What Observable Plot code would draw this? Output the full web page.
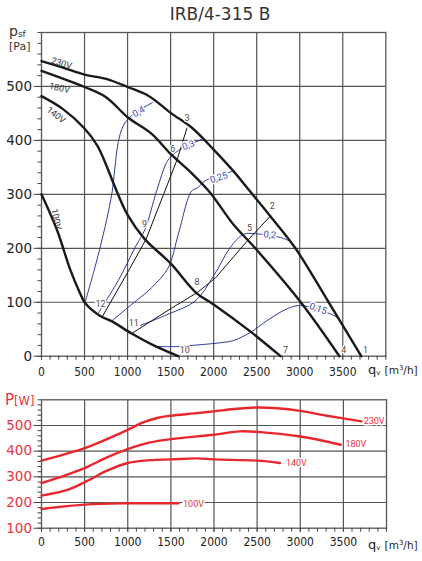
<!DOCTYPE html>
<html><head><meta charset="utf-8">
<script src="https://cdn.jsdelivr.net/npm/d3@7"></script>
<script src="https://cdn.jsdelivr.net/npm/@observablehq/plot@0.6"></script>
<style>
body{margin:0;background:#fff;}
#wrap{position:relative;width:422px;height:561px;overflow:hidden;font-family:"DejaVu Sans",sans-serif;}
.abs{position:absolute;white-space:nowrap;}
#topc,#botc{position:absolute;left:0;}
#topc{top:22px;} #botc{top:382px;}
</style></head><body>
<div id="wrap">
 <div class="abs" style="left:0;width:440px;text-align:center;top:4px;font-size:17px;color:#333">IRB/4-315 B</div>
 <div id="topc"></div>
 <div id="botc"></div>
 <div class="abs" style="left:9px;top:23px;font-size:14px;color:#333">p<span style="font-size:9px;vertical-align:-1px">sf</span></div>
 <div class="abs" style="left:9px;top:40px;font-size:11px;color:#333">[Pa]</div>
 <div class="abs" style="left:5px;top:391px;font-size:15px;color:#e8333e">P<span style="font-size:11.5px">[W]</span></div>
 <div class="abs" style="left:368px;top:362px;font-size:13px;color:#222">q<span style="font-size:7px;vertical-align:-1px">v</span> <span style="font-size:10.5px">[m<sup style="font-size:7px">3</sup>/h]</span></div>
 <div class="abs" style="left:368px;top:537px;font-size:13px;color:#222">q<span style="font-size:7px;vertical-align:-1px">v</span> <span style="font-size:10.5px">[m<sup style="font-size:7px">3</sup>/h]</span></div>
</div>
<script>
// ---------- data (q in m3/h, p in Pa / P in W) ----------
const fan230 = [[0,547],[250,535],[500,522],[750,514],[1000,499],[1250,482],[1500,451],[1750,423],[2000,383],[2230,343],[2420,306],[2656,260],[2950,200],[3336,100],[3715,0]];
const fan180 = [[0,529],[500,499],[750,480],[1000,443],[1280,412],[1500,375],[1740,340],[1960,303],[2230,244],[2484,200],[3012,100],[3461,0]];
const fan140 = [[0,482],[250,458],[500,422],[650,390],[750,355],[850,315],[1000,262],[1200,217],[1500,172],[1800,117],[2000,96],[2425,46],[2777,0]];
const fan100 = [[0,300],[182,233],[337,159],[453,115],[504,99],[678,75],[814,65],[1047,42],[1279,22],[1590,0]];

const iso040 = [[504,99],[620,164],[736,238],[822,306],[853,350],[891,396],[950,427],[1047,446],[1287,470]];
const iso030 = [[660,80],[891,140],[1085,201],[1202,235],[1337,306],[1453,359],[1512,371],[1589,381],[1860,402]];
const iso025 = [[814,65],[1047,96],[1279,127],[1473,164],[1589,226],[1744,306],[1822,313],[1900,325],[2230,343]];
const iso020 = [[1150,57],[1473,78],[1783,102],[2000,149],[2191,201],[2348,226],[2484,227],[2777,220],[2875,214]];
const iso015 = [[1330,18],[1615,18],[1751,20],[2081,25],[2230,29],[2426,44],[2621,66],[2855,88],[3012,94],[3363,78],[3461,69]];

const sys1 = [[705,73],[1000,155],[1215,217],[1575,364],[1690,423]];
const sys2 = [[1047,42],[1500,88],[1810,118],[2020,145],[2387,213],[2660,260]];

const pow230 = [[0,363],[500,412],[800,453],[1000,483],[1150,508],[1340,529],[1500,538],[1770,547],[2000,555],[2230,564],[2500,570],[2730,567],[3000,557],[3310,538],[3710,516]];
const pow180 = [[0,276],[260,304],[500,334],[760,376],[1000,408],[1260,434],[1500,447],[2000,464],[2300,477],[2500,475],[3000,457],[3470,425]];
const pow140 = [[0,227],[300,249],[500,279],[760,324],[1000,354],[1260,365],[1500,368],[1800,372],[2000,368],[2500,363],[2765,354]];
const pow100 = [[0,175],[500,192],[1000,197],[1500,197],[1590,197]];

const voltLabelsTop = [{q:232,p:543,t:"230V",r:17},{q:209,p:497,t:"180V",r:12},{q:170,p:447,t:"140V",r:38},{q:170,p:254,t:"100V",r:78}];
const isoLabels = [{q:1130,p:453,t:"0,4",r:-30},{q:1705,p:391,t:"0,3",r:-20},{q:2060,p:331,t:"0,25",r:-18},{q:2652,p:225,t:"0,2",r:5},{q:3215,p:88,t:"0,15",r:20}];
const pointLabels = [{q:3765,p:12,t:"1"},{q:2680,p:279,t:"2"},{q:1692,p:441,t:"3"},{q:3512,p:12,t:"4"},{q:2417,p:238,t:"5"},{q:1526,p:384,t:"6"},{q:2835,p:12,t:"7"},{q:1808,p:137,t:"8"},{q:1197,p:245,t:"9"},{q:1665,p:12,t:"10"},{q:1073,p:61,t:"11"},{q:686,p:97,t:"12"}];
const voltLabelsPow = [{q:3735,p:518,t:"230V"},{q:3524,p:428,t:"180V"},{q:2834,p:354,t:"140V"},{q:1641,p:195,t:"100V"}];

const xTickLabels = [0,500,1000,1500,2000,2500,3000,3500];
const qGrid = [500,1000,1500,2000,2500,3000,3500];
const xMinor = d3.range(0,4001,100);
const paTickLabels = [0,100,200,300,400,500];
const paGrid = [100,200,300,400,500];
const paMinor = d3.range(0,601,20);
const wTickLabels = [100,200,300,400,500];
const wGrid = [200,300,400,500];
const wMinor = d3.range(100,601,20);

// ---------- helpers ----------
const GRID = "#555";
const BLUE = "#2d3b9e";
const RED = "#e8262e";
const xFont = '"DejaVu Sans Condensed", Roboto, sans-serif';
const line = (data, stroke, w) => Plot.line(data, {x: d => d[0], y: d => d[1], curve: "catmull-rom", stroke, strokeWidth: w});

function axes(yGrid, yTicks, yMinor, yColor, xPad) {
  return [
    Plot.ruleX(qGrid, {stroke: GRID, strokeWidth: 1.2}),
    Plot.ruleY(yGrid, {stroke: GRID, strokeWidth: 1.2}),
    Plot.frame({stroke: GRID, strokeWidth: 1.3}),
    Plot.axisX({ticks: xMinor, tickSize: 4, tickFormat: () => "", stroke: "#444", label: null}),
    Plot.axisX({ticks: xTickLabels, tickSize: 4, tickPadding: xPad, tickFormat: d => String(d), fill: "#222", stroke: "#444", fontSize: 12, fontFamily: xFont, label: null}),
    Plot.axisY({ticks: yMinor, tickSize: 3.5, tickFormat: () => "", stroke: "#444", label: null}),
    Plot.axisY({ticks: yTicks, tickSize: 7.5, tickPadding: 2, tickFormat: d => String(d), fill: yColor, stroke: "#444", fontSize: 13.5, fontFamily: "DejaVu Sans, sans-serif", label: null})
  ];
}

// ---------- top chart: static pressure ----------
const topChart = Plot.plot({
  width: 422, height: 360,
  marginTop: 10, marginBottom: 26.3, marginLeft: 41, marginRight: 36.7,
  x: {domain: [0, 4000]},
  y: {domain: [0, 600]},
  marks: [
    ...axes(paGrid, paTickLabels, paMinor, "#222", 7),
    line(iso040, BLUE, 1), line(iso030, BLUE, 1), line(iso025, BLUE, 1), line(iso020, BLUE, 1), line(iso015, BLUE, 1),
    Plot.line(sys1, {x: d => d[0], y: d => d[1], stroke: "#111", strokeWidth: 1}),
    Plot.line(sys2, {x: d => d[0], y: d => d[1], stroke: "#111", strokeWidth: 1}),
    line(fan230, "#1a1a1a", 2.4), line(fan180, "#1a1a1a", 2.4), line(fan140, "#1a1a1a", 2.4), line(fan100, "#1a1a1a", 2.4),
    Plot.text(isoLabels, {x: "q", y: "p", text: "t", rotate: "r", fill: "#3a4ab8", stroke: "white", strokeWidth: 3, fontSize: 9.5, fontFamily: "Roboto, sans-serif"}),
    Plot.text(pointLabels, {x: "q", y: "p", text: "t", fill: "#5a4838", stroke: "white", strokeWidth: 2.5, fontSize: 9, fontFamily: "Roboto, sans-serif"}),
    Plot.text(voltLabelsTop, {x: "q", y: "p", text: "t", rotate: "r", fill: "#3a3330", fontSize: 9, fontFamily: "Roboto, sans-serif"})
  ]
});
document.getElementById("topc").appendChild(topChart);

// ---------- bottom chart: power ----------
const botChart = Plot.plot({
  width: 422, height: 179,
  marginTop: 17.3, marginBottom: 33.3, marginLeft: 41, marginRight: 36,
  x: {domain: [0, 4000]},
  y: {domain: [100, 600]},
  marks: [
    ...axes(wGrid, wTickLabels, wMinor, "#e8333e", 5),
    line(pow230, RED, 2.4), line(pow180, RED, 2.4), line(pow140, RED, 2.4), line(pow100, RED, 2.4),
    Plot.text(voltLabelsPow, {x: "q", y: "p", text: "t", textAnchor: "start", fill: "#e8333e", stroke: "white", strokeWidth: 3, fontSize: 9, fontFamily: "Roboto, sans-serif"})
  ]
});
document.getElementById("botc").appendChild(botChart);
</script>
</body></html>
